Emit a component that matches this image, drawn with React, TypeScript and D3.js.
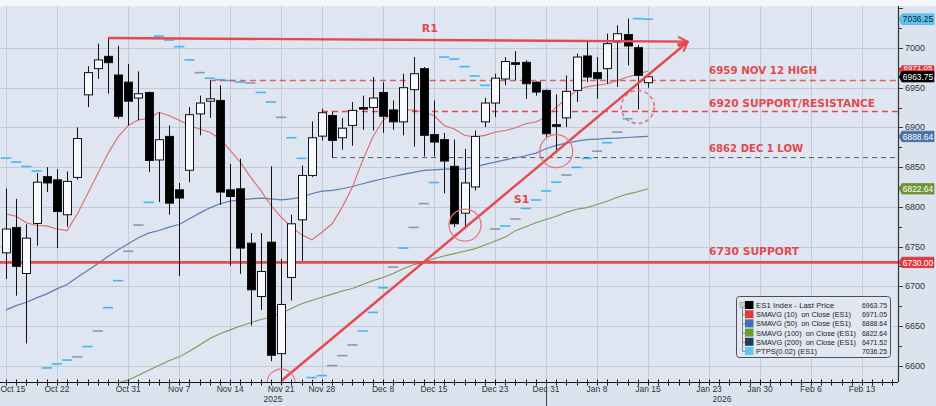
import React, { useEffect, useRef } from "react";
import * as d3 from "d3";

// ---------- DATA ----------
const openP = [6742, 6774, 6716, 6779, 6838, 6834, 6790, 6837, 6941, 6974, 6989.5, 6966, 6957, 6937, 6944, 6859, 6888.7, 6821.4, 6846, 6917, 6933, 6934, 6821.4, 6822.7, 6754.2, 6687, 6755.5, 6615, 6711, 6783.6, 6839.5, 6889, 6915, 6887, 6902.5, 6925, 6925, 6944, 6922, 6907, 6947.5, 6974, 6891, 6884.6, 6851, 6792, 6825, 6907, 6930.7, 6961, 6981.5, 6982, 6957, 6946.6, 6903.4, 6912, 6946.6, 6990, 6969, 6974, 7007.6, 7017, 7000.4, 6956.3];
const highP = [6823, 6810, 6778, 6842.5, 6850, 6847.5, 6844.5, 6900, 6977, 7005.5, 7012, 7003, 6980, 6970.6, 6945, 6919, 6902.5, 6830, 6925.6, 6940, 6959, 6953, 6854, 6860.5, 6767, 6767, 6851, 6734.5, 6790, 6852, 6907.5, 6923.5, 6920, 6912, 6932, 6940, 6963.4, 6957, 6934, 6967.6, 6988.6, 6976, 6934, 6893, 6884.6, 6873, 6896, 6937.4, 6967.6, 6988.6, 6996, 6984.5, 6958, 6948, 6941.6, 6965.5, 6993, 7008.4, 6988.6, 7018, 7028.6, 7037, 7004, 6965.5];
const lowP = [6709, 6688, 6628, 6751, 6818.5, 6748, 6775, 6834, 6925.6, 6961, 6942.5, 6911, 6902.5, 6909, 6843.7, 6806, 6790, 6712.6, 6831, 6890, 6912, 6802.5, 6726, 6715.5, 6650.4, 6670, 6605.5, 6582, 6682, 6732, 6837.4, 6883.6, 6862, 6872, 6877, 6897, 6896, 6893, 6897, 6890, 6876, 6863.4, 6863.4, 6817, 6774.4, 6772, 6820.6, 6900.4, 6913, 6953, 6959, 6936, 6940, 6888, 6867.6, 6900.4, 6932, 6957, 6936, 6955, 6951, 6978, 6922.7, 6950];
const closeP = [6772, 6725, 6760.5, 6831, 6830, 6794, 6832, 6886, 6969, 6985, 6981.5, 6914, 6933, 6942.4, 6858.4, 6884.5, 6804.6, 6811, 6916, 6930.7, 6936, 6818.5, 6813, 6748, 6695.4, 6718.5, 6613, 6677, 6778.6, 6839.5, 6887, 6918.5, 6883.6, 6899, 6921.4, 6923, 6937, 6914, 6907, 6950, 6967.6, 6890, 6881.5, 6857.6, 6778.6, 6830, 6888.7, 6930.7, 6962, 6983, 6979.4, 6955, 6944.5, 6892, 6901.3, 6945.4, 6988.6, 6963.4, 6961.3, 7005.5, 7018, 7002.5, 6965.5, 6963.75];

const sma10 = [6791, 6788, 6780, 6776.5, 6776, 6772, 6770, 6791, 6816, 6841.6, 6867, 6888, 6902.5, 6909.7, 6911, 6919, 6915, 6909, 6902.5, 6898, 6894, 6885.7, 6871, 6856.3, 6837.4, 6820.6, 6801.7, 6787, 6774.4, 6765, 6758.4, 6768, 6778.6, 6799.6, 6824.8, 6858.4, 6888, 6909, 6919, 6922, 6922, 6919, 6915, 6902.5, 6898, 6890, 6888, 6890, 6894, 6896, 6899.6, 6904.6, 6906.7, 6913, 6925.6, 6936, 6946.6, 6951, 6953, 6955, 6959, 6963.4, 6967, 6971.05];
const sma50 = [6670.2, 6675.6, 6679.8, 6685.3, 6690.3, 6696.6, 6702.1, 6711.3, 6719.7, 6728.2, 6737.4, 6745.8, 6753.4, 6761, 6766.8, 6770.2, 6774.4, 6777.7, 6784.9, 6792, 6798.7, 6803.8, 6807.1, 6808.8, 6810.1, 6810.9, 6810.1, 6808.8, 6810.1, 6812.2, 6816.4, 6819.7, 6820.6, 6822.7, 6825.6, 6829, 6832.4, 6835.3, 6838.2, 6840.8, 6843.3, 6845.8, 6846.6, 6847.5, 6847.5, 6847.5, 6850, 6853.4, 6856.3, 6859.2, 6861.8, 6864.3, 6867.6, 6873.1, 6877.3, 6880.3, 6882.8, 6884.5, 6885.3, 6886.1, 6886.5, 6887.3, 6888, 6888.64];
const sma100 = [null, null, null, null, null, null, null, null, null, null, 6574, 6578, 6582, 6588, 6594, 6600, 6606, 6611, 6618, 6626, 6634, 6640, 6645, 6650, 6654, 6658, 6661, 6666, 6672, 6678, 6682, 6686, 6690, 6694, 6697, 6702, 6707, 6711, 6716, 6722, 6727, 6730, 6735, 6738, 6741, 6744, 6747, 6752, 6757, 6762, 6770, 6775, 6780, 6784, 6788, 6793, 6797, 6799, 6803, 6807, 6812, 6816, 6819, 6822.64];
const ptps = [6861.3, 6856.3, 6850.8, 6845, 6597, 6602, 6607, 6611, 6624, 6643.6, 6673, 6707, 6744, 6777, 6805.6, 7015, 7010, 7001.7, 6985, 6969, 6962, 6960, 6959, 6957, 6956, 6944, 6932, 6912.7, 6887, 6861, 6585, 6587.4, 6600, 6612.6, 6626, 6643.6, 6667, 6698, 6724, 6748, 6774, 6804, 6830.6, 6988.6, 6986, 6976.5, 6964.7, 6953, 6772, 6775.8, 6784.6, 6798, 6808.6, 6820, 6831, 6840, 6849.7, 6861, 6870, 6880.7, 6894, 6911, 7037, 7036.25];
const ptpsMuted = [7, 9, 12, 13, 19, 24, 27, 32, 33, 34, 38, 40, 41, 48, 50, 55, 58, 60];

const tickLabels = ["Oct 15", "Oct 22", "Oct 31", "Nov 7", "Nov 14", "Nov 21", "Nov 28", "Dec 8", "Dec 15", "Dec 23", "Dec 31", "Jan 8", "Jan 15", "Jan 23", "Jan 30", "Feb 6", "Feb 13"];
const yearLabels = ["2025", "2026"];
const yTickValues = [6600, 6650, 6700, 6750, 6800, 6850, 6900, 6950, 7000];
const holidays = ["2025-11-27", "2025-12-25", "2026-01-01"];

const legendNames = ["ES1 Index - Last Price", "SMAVG (10)  on Close (ES1)", "SMAVG (50)  on Close (ES1)", "SMAVG (100)  on Close (ES1)", "SMAVG (200)  on Close (ES1)", "PTPS(0.02) (ES1)"];
const legendValues = ["6963.75", "6971.05", "6888.64", "6822.64", "6471.52", "7036.25"];

const levelLines = [6959, 6920, 6862, 6730];
const levelNotes = ["6959 NOV 12 HIGH", "6920 SUPPORT/RESISTANCE", "6862 DEC 1 LOW", "6730 SUPPORT"];

// ---------- helpers ----------
function makeTradingDays(): Date[] {
  const out: Date[] = [];
  const d = new Date(Date.UTC(2025, 9, 15));
  const end = new Date(Date.UTC(2026, 1, 20));
  const fmt = d3.utcFormat("%Y-%m-%d");
  while (d <= end) {
    const wd = d.getUTCDay();
    if (wd !== 0 && wd !== 6 && !holidays.includes(fmt(d))) out.push(new Date(d));
    d.setUTCDate(d.getUTCDate() + 1);
  }
  return out;
}

export default function App() {
  const ref = useRef<SVGSVGElement>(null);

  useEffect(() => {
    const svg = d3.select(ref.current);
    svg.selectAll("*").remove();
    const W = 936, H = 406;
    const L = 0, R = 898, T = 6, B = 382;
    const days = makeTradingDays();
    const fmt = d3.utcFormat("%b %-d");
    const x = d3.scaleLinear().domain([-0.589, 87.54]).range([L, R]);
    const y = d3.scaleLinear().domain([6600, 7000]).range([365.6, 48]);
    const FONT = "'Liberation Sans', Arial, sans-serif";
    const RED = "#e5484d";

    svg.append("rect").attr("width", W).attr("height", H).attr("fill", "#dbe3ef");
    svg.append("rect").attr("width", W).attr("height", T).attr("fill", "#f4f6fa");
    svg.append("rect").attr("x", L).attr("y", T).attr("width", R - L).attr("height", B - T).attr("fill", "#dfe6f1");

    const defs = svg.append("defs");
    defs.append("clipPath").attr("id", "plotclip").append("rect").attr("x", L).attr("y", T).attr("width", R - L).attr("height", B - T);
    defs.append("marker").attr("id", "arrow").attr("viewBox", "0 0 10 10").attr("refX", 9).attr("refY", 5)
      .attr("markerWidth", 5).attr("markerHeight", 5).attr("orient", "auto")
      .append("path").attr("d", "M1,1 L9,5 L1,9").attr("fill", "none").attr("stroke", RED).attr("stroke-width", 1.6);

    // grid
    const labelIdx = tickLabels.map(t => days.findIndex(d => fmt(d) === t));
    const grid = svg.append("g").attr("stroke", "#c4cbd8").attr("stroke-width", 1);
    labelIdx.forEach(i => {
      grid.append("line").attr("x1", Math.round(x(i)) + 0.5).attr("x2", Math.round(x(i)) + 0.5).attr("y1", T).attr("y2", B);
    });
    yTickValues.forEach(v => {
      grid.append("line").attr("x1", L).attr("x2", R).attr("y1", Math.round(y(v)) + 0.5).attr("y2", Math.round(y(v)) + 0.5);
    });

    const plot = svg.append("g").attr("clip-path", "url(#plotclip)");
    const idx = d3.range(closeP.length);

    // moving averages
    const line = (arr: (number | null)[]) => d3.line<number>().defined(i => arr[i] != null).x(i => x(i)).y(i => y(arr[i] as number))(idx);
    plot.append("path").attr("d", line(sma100)).attr("fill", "none").attr("stroke", "#7f9a56").attr("stroke-width", 1.1);
    plot.append("path").attr("d", line(sma50)).attr("fill", "none").attr("stroke", "#5c7db2").attr("stroke-width", 1.2);
    plot.append("path").attr("d", line(sma10)).attr("fill", "none").attr("stroke", "#e06a6a").attr("stroke-width", 1.1);

    // ptps dashes
    idx.forEach(i => {
      const muted = ptpsMuted.includes(i);
      plot.append("line").attr("x1", x(i - 0.5)).attr("x2", x(i + 0.5)).attr("y1", y(ptps[i])).attr("y2", y(ptps[i]))
        .attr("stroke", muted ? "#8b98a8" : "#3fb8f0").attr("stroke-width", 1.6);
    });

    // level lines
    plot.append("line").attr("x1", x(20)).attr("x2", R).attr("y1", y(levelLines[0])).attr("y2", y(levelLines[0]))
      .attr("stroke", RED).attr("stroke-width", 1.4).attr("stroke-dasharray", "6,4").attr("opacity", 0.85);
    plot.append("line").attr("x1", x(31)).attr("x2", R).attr("y1", y(levelLines[1])).attr("y2", y(levelLines[1]))
      .attr("stroke", RED).attr("stroke-width", 1.4).attr("stroke-dasharray", "6,4");
    plot.append("line").attr("x1", x(32)).attr("x2", R).attr("y1", y(levelLines[2])).attr("y2", y(levelLines[2]))
      .attr("stroke", "#555c66").attr("stroke-width", 1).attr("stroke-dasharray", "5,4");
    plot.append("line").attr("x1", L).attr("x2", R).attr("y1", y(levelLines[3])).attr("y2", y(levelLines[3]))
      .attr("stroke", RED).attr("stroke-width", 2.6);

    // candles
    const bw = 8;
    idx.forEach(i => {
      const up = closeP[i] >= openP[i];
      const cx = Math.round(x(i)) + 0.5;
      plot.append("line").attr("x1", cx).attr("x2", cx).attr("y1", y(highP[i])).attr("y2", y(lowP[i])).attr("stroke", "#111").attr("stroke-width", 1);
      const top = y(Math.max(openP[i], closeP[i]));
      const bot = y(Math.min(openP[i], closeP[i]));
      plot.append("rect").attr("x", cx - bw / 2).attr("y", top).attr("width", bw).attr("height", Math.max(1.5, bot - top))
        .attr("fill", up ? "#f7f9fc" : "#000").attr("stroke", "#111").attr("stroke-width", 1);
    });

    // trend lines
    plot.append("line").attr("x1", x(10)).attr("y1", y(7012.6)).attr("x2", x(66.9)).attr("y2", y(7008))
      .attr("stroke", RED).attr("stroke-width", 2.4).attr("marker-end", "url(#arrow)");
    plot.append("line").attr("x1", x(27)).attr("y1", y(6580.6)).attr("x2", x(66.9)).attr("y2", y(7007.6))
      .attr("stroke", RED).attr("stroke-width", 2.4).attr("marker-end", "url(#arrow)");

    // circles
    const circ = (i: number, v: number, r: number, dashed: boolean) =>
      plot.append("circle").attr("cx", x(i)).attr("cy", y(v)).attr("r", r).attr("fill", "none")
        .attr("stroke", "#e27478").attr("stroke-width", dashed ? 1.6 : 1.2).attr("stroke-dasharray", dashed ? "4,3" : null);
    circ(27, 6578, 14, false);
    circ(45.05, 6777, 16, false);
    circ(54, 6870, 16.5, false);
    circ(62, 6925.7, 16.5, true);

    // text annotations
    const noteY = [y(levelLines[0]) - 7, y(levelLines[1]) - 4.5, y(levelLines[2]) - 6, y(levelLines[3]) - 7];
    const noteW = [108, 166, 94, 90];
    levelNotes.forEach((t, k) => {
      svg.append("text").attr("x", x(69)).attr("y", noteY[k]).text(t)
        .attr("font-family", "'DejaVu Sans', sans-serif").attr("font-weight", "bold").attr("font-size", 11)
        .attr("fill", RED).attr("textLength", noteW[k]).attr("lengthAdjust", "spacingAndGlyphs");
    });
    svg.append("text").attr("x", x(41.6)).attr("y", 31.5).attr("text-anchor", "middle").text("R1")
      .attr("font-family", "'DejaVu Sans', sans-serif").attr("font-weight", "bold").attr("font-size", 11).attr("fill", RED);
    svg.append("text").attr("x", x(50.6)).attr("y", 203).attr("text-anchor", "middle").text("S1")
      .attr("font-family", "'DejaVu Sans', sans-serif").attr("font-weight", "bold").attr("font-size", 11).attr("fill", RED);

    // x axis
    const ax = svg.append("g");
    ax.append("line").attr("x1", L).attr("x2", R).attr("y1", B + 0.5).attr("y2", B + 0.5).attr("stroke", "#111");
    days.forEach((d, i) => {
      const xx = Math.round(x(i)) + 0.5;
      if (xx > R) return;
      ax.append("line").attr("x1", xx).attr("x2", xx).attr("y1", B - 2.5).attr("y2", B + 3.5).attr("stroke", "#111");
    });
    labelIdx.forEach((i, k) => {
      const xx = Math.max(x(i), 13);
      ax.append("text").attr("x", xx).attr("y", 392).attr("text-anchor", "middle").text(tickLabels[k])
        .attr("font-family", FONT).attr("font-size", 8.5).attr("fill", "#333");
    });
    const boundary = days.findIndex(d => d.getUTCFullYear() === 2026) - 1;
    ax.append("line").attr("x1", Math.round(x(boundary)) + 0.5).attr("x2", Math.round(x(boundary)) + 0.5).attr("y1", B).attr("y2", H).attr("stroke", "#444");
    ax.append("text").attr("x", (L + x(boundary)) / 2).attr("y", 402).attr("text-anchor", "middle").text(yearLabels[0])
      .attr("font-family", FONT).attr("font-size", 8.5).attr("fill", "#333");
    ax.append("text").attr("x", (x(boundary) + R) / 2).attr("y", 402).attr("text-anchor", "middle").text(yearLabels[1])
      .attr("font-family", FONT).attr("font-size", 8.5).attr("fill", "#333");

    // y axis
    const ay = svg.append("g");
    ay.append("line").attr("x1", R + 0.5).attr("x2", R + 0.5).attr("y1", T).attr("y2", B).attr("stroke", "#333").attr("stroke-width", 1.2);
    d3.range(6600, 7051, 25).forEach(v => {
      const yy = Math.round(y(v)) + 0.5;
      if (yy < T) return;
      const major = v % 50 === 0;
      ay.append("line").attr("x1", R).attr("x2", R + (major ? 5 : 4)).attr("y1", yy).attr("y2", yy).attr("stroke", "#333");
    });
    yTickValues.forEach(v => {
      ay.append("text").attr("x", R + 7).attr("y", y(v) + 3).text(String(v))
        .attr("font-family", FONT).attr("font-size", 9).attr("fill", "#333");
    });

    // price boxes (SMA10 box sits mostly behind the last-price box, as in the source)
    const boxes: [number, string, string, string][] = [
      [7036.25, "#5cc6f2", "#123", legendValues[5]],
      [6971.05, "#e2393f", "#fff", legendValues[1]],
      [6963.75, "#000", "#fff", legendValues[0]],
      [6888.64, "#4a73ad", "#fff", legendValues[2]],
      [6822.64, "#6f9735", "#fff", legendValues[3]],
      [6730, "#e2393f", "#fff", "6730.00"],
    ];
    const boxMid = (R + 4 + W - 2) / 2;
    boxes.forEach(([v, fill, tc, label], k) => {
      const cy = y(v);
      const h = 10.5;
      const g = ay.append("g");
      g.append("path").attr("d", `M${R + 1},${cy} L${R + 4},${cy - h / 2} L${W - 2},${cy - h / 2} L${W - 2},${cy + h / 2} L${R + 4},${cy + h / 2} Z`)
        .attr("fill", fill).attr("stroke", d3.color(fill)!.darker(0.6).toString()).attr("stroke-width", 0.6);
      if (k === 1) {
        // only the top sliver of this label is visible above the last-price box
        g.append("text").attr("x", boxMid).attr("y", cy - 0.6).attr("text-anchor", "middle").text(label)
          .attr("font-family", FONT).attr("font-size", 5.4).attr("fill", tc)
          .attr("textLength", 29).attr("lengthAdjust", "spacingAndGlyphs");
      } else {
        g.append("text").attr("x", boxMid).attr("y", cy + 3.2).attr("text-anchor", "middle").text(label)
          .attr("font-family", FONT).attr("font-size", 8.4).attr("fill", tc);
      }
    });

    // legend
    const lg = svg.append("g");
    lg.append("rect").attr("x", 736.5).attr("y", 296.5).attr("width", 154).attr("height", 61).attr("rx", 3)
      .attr("fill", "#e2e8f2").attr("stroke", "#4a4f57").attr("stroke-width", 1);
    const swatch = ["#000", "#e8383d", "#3f6fb5", "#6b9a2d", "#1f3b63", "#5bc8f5"];
    const nameW = [78, 95, 95, 100, 100, 61];
    const rowY = (k: number) => 305 + k * 9.2;
    lg.append("line").attr("x1", 742.5).attr("x2", 742.5).attr("y1", rowY(0)).attr("y2", rowY(5)).attr("stroke", "#888");
    lg.append("rect").attr("x", 740).attr("y", rowY(0) - 2.5).attr("width", 5).attr("height", 5).attr("fill", "#ccc").attr("stroke", "#888").attr("stroke-width", 0.6);
    legendNames.forEach((n, k) => {
      const yy = rowY(k);
      if (k > 0) lg.append("line").attr("x1", 742.5).attr("x2", 745).attr("y1", yy + 0.5).attr("y2", yy + 0.5).attr("stroke", "#888");
      lg.append("rect").attr("x", 745).attr("y", yy - 4).attr("width", 8.5).attr("height", 8).attr("fill", swatch[k]);
      lg.append("text").attr("x", 756).attr("y", yy + 3).text(n).style("white-space", "pre")
        .attr("textLength", nameW[k]).attr("lengthAdjust", "spacingAndGlyphs")
        .attr("font-family", FONT).attr("font-size", 7.8).attr("fill", "#222");
      lg.append("text").attr("x", 887).attr("y", yy + 3).attr("text-anchor", "end").text(legendValues[k])
        .attr("textLength", 25).attr("lengthAdjust", "spacingAndGlyphs")
        .attr("font-family", FONT).attr("font-size", 7.8).attr("fill", "#222");
    });
  }, []);

  return <svg ref={ref} width={936} height={406} style={{ position: "absolute", left: 0, top: 0, display: "block" }} />;
}
